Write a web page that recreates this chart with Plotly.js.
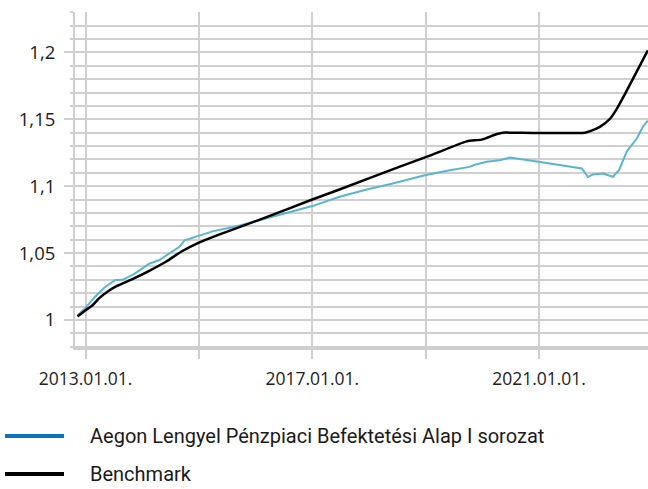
<!DOCTYPE html>
<html>
<head>
<meta charset="utf-8">
<script src="https://cdn.plot.ly/plotly-3.0.1.min.js"></script>
<style>html,body{margin:0;padding:0;background:#fff;}#chart{width:648px;height:489px;}</style>
</head>
<body>
<div id="chart"></div>
<script>
// Fund series (Aegon Lengyel Pénzpiaci Befektetési Alap I sorozat)
var fundDates = ['2012-11-10','2013-01-01','2013-02-27','2013-04-26','2013-06-05','2013-07-12','2013-08-27','2013-11-06','2014-01-03','2014-02-15','2014-04-22','2014-07-15','2014-08-29','2014-10-01','2015-01-05','2015-04-05','2015-08-06','2016-01-25','2016-07-19','2017-01-01','2017-06-26','2017-12-18','2018-06-03','2018-12-27','2019-06-06','2019-10-12','2019-11-13','2020-01-30','2020-04-23','2020-06-27','2021-01-07','2021-10-04','2021-11-12','2021-12-14','2022-02-17','2022-03-21','2022-04-22','2022-05-31','2022-07-21','2022-09-24','2022-11-01','2022-12-03'];
var fundValues = [1.0035,1.009,1.0168,1.0235,1.027,1.0299,1.0300,1.034,1.0385,1.042,1.0448,1.051,1.0547,1.0595,1.0632,1.0664,1.0692,1.0746,1.0796,1.0851,1.0921,1.0975,1.102,1.1082,1.1119,1.1144,1.1160,1.1182,1.1194,1.1214,1.1180,1.1132,1.1068,1.1088,1.1094,1.1080,1.1070,1.1119,1.1260,1.1358,1.1443,1.1490];

// Benchmark series
var benchDates = ['2012-11-10','2013-01-01','2013-02-15','2013-04-01','2013-06-05','2013-07-20','2013-10-30','2014-02-15','2014-06-05','2014-09-17','2015-01-05','2015-05-15','2016-01-25','2017-01-01','2017-06-25','2018-07-15','2019-01-28','2019-09-23','2019-12-28','2020-04-05','2020-05-13','2020-06-27','2021-10-23','2021-12-05','2022-01-28','2022-04-03','2022-05-18','2022-07-21','2022-08-28','2022-09-23','2022-12-03'];
var benchValues = [1.0025,1.0072,1.0110,1.0165,1.0222,1.0252,1.0305,1.0367,1.0437,1.0515,1.0580,1.0640,1.0748,1.0900,1.0975,1.1144,1.1228,1.1335,1.1348,1.1390,1.1400,1.1400,1.1400,1.1415,1.1443,1.1504,1.1580,1.1716,1.1800,1.1858,1.2015];

var seriesNames = ['Aegon Lengyel Pénzpiaci Befektetési Alap I sorozat', 'Benchmark'];
var lineColors = ['#5bb5cf', '#000000'];
var legendColors = ['#0b74b9', '#000000'];

var xTickVals = ['2013-01-01','2015-01-01','2017-01-01','2019-01-01','2021-01-01'];
var xTickText = ['2013.01.01.','','2017.01.01.','','2021.01.01.'];
var yTickVals = [1, 1.05, 1.1, 1.15, 1.2];
var yTickText = ['1', '1,05', '1,1', '1,15', '1,2'];

var traces = [
  {x: fundDates, y: fundValues, type: 'scatter', mode: 'lines', name: seriesNames[0],
   line: {color: lineColors[0], width: 2}, showlegend: false},
  {x: benchDates, y: benchValues, type: 'scatter', mode: 'lines', name: seriesNames[1],
   line: {color: lineColors[1], width: 2.5, shape: 'spline', smoothing: 0.6}, showlegend: false}
];

// legend geometry (pixels) converted into paper coordinates
var W = 648, H = 489, mL = 75, mR = 0, mT = 12, mB = 141;
var pw = W - mL - mR, ph = H - mT - mB;
function px2x(p){ return (p - mL) / pw; }
function py2y(p){ return (H - mB - p) / ph; }
var legendRows = [436, 474];

var shapes = [], annotations = [];
for (var i = 0; i < seriesNames.length; i++) {
  shapes.push({type: 'line', xref: 'paper', yref: 'paper',
    x0: px2x(5), x1: px2x(64), y0: py2y(legendRows[i]), y1: py2y(legendRows[i]),
    line: {color: legendColors[i], width: 4}});
  annotations.push({xref: 'paper', yref: 'paper', x: px2x(88), y: py2y(legendRows[i]),
    xanchor: 'left', yanchor: 'middle', showarrow: false, text: seriesNames[i],
    font: {family: 'Roboto, sans-serif', size: 20, color: '#1a1a1a'}});
}

var layout = {
  width: W, height: H,
  margin: {l: mL, r: mR, t: mT, b: mB, pad: 0},
  paper_bgcolor: '#fff', plot_bgcolor: '#fff',
  separators: ', ',
  showlegend: false,
  xaxis: {
    type: 'date', range: ['2012-10-25', '2022-12-04'],
    tickmode: 'array', tickvals: xTickVals, ticktext: xTickText,
    showgrid: true, gridcolor: '#cfcfcf', gridwidth: 2,
    ticks: 'outside', ticklen: 9, tickwidth: 2, tickcolor: '#cfcfcf',
    showline: true, linecolor: '#cfcfcf', linewidth: 2,
    zeroline: false, ticklabelstandoff: 5,
    tickfont: {family: 'Open Sans, sans-serif', size: 17.5, color: '#222'}
  },
  yaxis: {
    range: [0.979, 1.2302],
    tickmode: 'array', tickvals: yTickVals, ticktext: yTickText,
    showgrid: true, gridcolor: '#cfcfcf', gridwidth: 2,
    ticks: 'outside', ticklen: 9, tickwidth: 2, tickcolor: '#cfcfcf',
    showline: true, linecolor: '#cfcfcf', linewidth: 2,
    zeroline: false, ticklabelstandoff: 5,
    minor: {tickmode: 'linear', tick0: 1, dtick: 0.01, showgrid: true, gridcolor: '#cfcfcf', gridwidth: 2,
            ticks: 'outside', ticklen: 3, tickwidth: 2, tickcolor: '#cfcfcf'},
    tickfont: {family: 'Open Sans, sans-serif', size: 18.5, color: '#222'}
  },
  shapes: shapes,
  annotations: annotations
};

Plotly.newPlot('chart', traces, layout, {displayModeBar: false, staticPlot: true});
</script>
</body>
</html>
